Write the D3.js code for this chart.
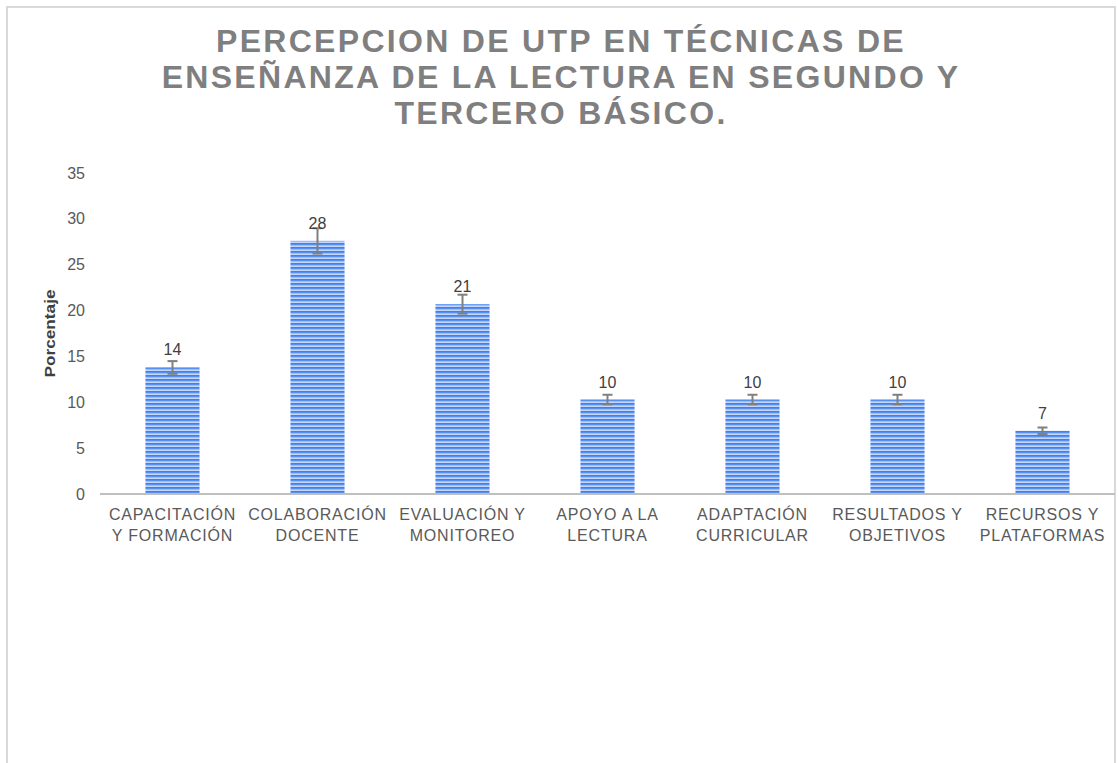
<!DOCTYPE html>
<html>
<head>
<meta charset="utf-8">
<script src="https://cdn.jsdelivr.net/npm/d3@7"></script>
<style>
  body { margin: 0; background: #fff; }
  text { font-family: "Liberation Sans", Arial, sans-serif; }
</style>
</head>
<body>
<div id="chart"></div>
<script>
// data
var categories = [
    ["CAPACITACIÓN", "Y FORMACIÓN"],
    ["COLABORACIÓN", "DOCENTE"],
    ["EVALUACIÓN Y", "MONITOREO"],
    ["APOYO A LA", "LECTURA"],
    ["ADAPTACIÓN", "CURRICULAR"],
    ["RESULTADOS Y", "OBJETIVOS"],
    ["RECURSOS Y", "PLATAFORMAS"]
];
var values = [13.8, 27.6, 20.7, 10.3, 10.3, 10.3, 6.9];
var errors = [0.69, 1.38, 1.03, 0.52, 0.52, 0.52, 0.35];
var yTicks = [0, 5, 10, 15, 20, 25, 30, 35];
var titleLines = [
    "PERCEPCION DE UTP EN TÉCNICAS DE",
    "ENSEÑANZA DE LA LECTURA EN SEGUNDO Y",
    "TERCERO BÁSICO."
];
var yTitle = "Porcentaje";

var width = 1118, height = 763;
var svg = d3.select("#chart").append("svg")
    .attr("width", width)
    .attr("height", height);

// stripe pattern for the bars
var defs = svg.append("defs");
var pat = defs.append("pattern")
    .attr("id", "stripes")
    .attr("patternUnits", "userSpaceOnUse")
    .attr("width", 8).attr("height", 4);
pat.append("rect").attr("width", 8).attr("height", 4).attr("fill", "#5590f2");
pat.append("rect").attr("y", 1).attr("width", 8).attr("height", 1).attr("fill", "#9dbdf7");
pat.append("rect").attr("y", 2).attr("width", 8).attr("height", 1).attr("fill", "#c4d7fb");
pat.append("rect").attr("y", 3).attr("width", 8).attr("height", 1).attr("fill", "#3f7fee");

// chart frame
svg.append("rect")
    .attr("x", 7).attr("y", 7)
    .attr("width", 1108).attr("height", 820)
    .attr("fill", "none")
    .attr("stroke", "#d9d9d9")
    .attr("stroke-width", 2);

// title
var title = svg.append("text")
    .attr("text-anchor", "middle")
    .attr("font-weight", "bold")
    .attr("font-size", 32)
    .attr("fill", "#7f7f7f")
    .attr("letter-spacing", 2.3);
title.selectAll("tspan")
    .data(titleLines)
    .enter().append("tspan")
    .attr("x", 561)
    .attr("y", function(d, i) { return 52 + i * 36; })
    .text(function(d) { return d; });

var x0 = 100, x1 = 1115, yTop = 173, yBase = 494;

var x = d3.scaleBand()
    .domain(d3.range(categories.length))
    .range([x0, x1])
    .padding(0);

var y = d3.scaleLinear()
    .domain([0, 35])
    .range([yBase, yTop]);

var barW = x.bandwidth() * 0.373;

// y tick labels
svg.append("g").selectAll("text")
    .data(yTicks)
    .enter().append("text")
    .attr("x", 85)
    .attr("y", function(d) { return y(d); })
    .attr("dy", "0.35em")
    .attr("text-anchor", "end")
    .attr("font-size", 16)
    .attr("fill", "#595959")
    .text(function(d) { return d; });

// y title
svg.append("text")
    .attr("transform", "translate(55," + ((yTop + yBase) / 2) + ") rotate(-90)")
    .attr("text-anchor", "middle")
    .attr("font-size", 15)
    .attr("font-weight", "bold")
    .attr("fill", "#404040")
    .attr("textLength", 88)
    .attr("lengthAdjust", "spacingAndGlyphs")
    .text(yTitle);

// bars
svg.append("g").selectAll("rect")
    .data(values)
    .enter().append("rect")
    .attr("x", function(d, i) { return x(i) + (x.bandwidth() - barW) / 2; })
    .attr("y", function(d) { return y(d); })
    .attr("width", barW)
    .attr("height", function(d) { return yBase - y(d); })
    .attr("fill", "url(#stripes)");

// baseline
svg.append("line")
    .attr("x1", x0).attr("x2", x1)
    .attr("y1", yBase).attr("y2", yBase)
    .attr("stroke", "#bfbfbf")
    .attr("stroke-width", 2);

// error bars
var eb = svg.append("g")
    .attr("stroke", "#7f7f7f")
    .attr("stroke-width", 2);
values.forEach(function(v, i) {
    var cx = x(i) + x.bandwidth() / 2;
    var e = errors[i];
    eb.append("line")
        .attr("x1", cx).attr("x2", cx)
        .attr("y1", y(v + e)).attr("y2", y(v - e));
    [v + e, v - e].forEach(function(t) {
        eb.append("line")
            .attr("x1", cx - 5).attr("x2", cx + 5)
            .attr("y1", y(t)).attr("y2", y(t));
    });
});

// data labels
svg.append("g").selectAll("text")
    .data(values)
    .enter().append("text")
    .attr("x", function(d, i) { return x(i) + x.bandwidth() / 2; })
    .attr("y", function(d) { return y(d) - 12; })
    .attr("text-anchor", "middle")
    .attr("font-size", 16)
    .attr("fill", "#404040")
    .text(function(d) { return Math.round(d); });

// category labels
var cat = svg.append("g").selectAll("text")
    .data(categories)
    .enter().append("text")
    .attr("text-anchor", "middle")
    .attr("font-size", 16)
    .attr("letter-spacing", 0.8)
    .attr("fill", "#595959");
cat.each(function(lines, i) {
    var t = d3.select(this);
    lines.forEach(function(l, j) {
        t.append("tspan")
            .attr("x", x(i) + x.bandwidth() / 2)
            .attr("y", 520 + j * 21)
            .text(l);
    });
});
</script>
</body>
</html>
